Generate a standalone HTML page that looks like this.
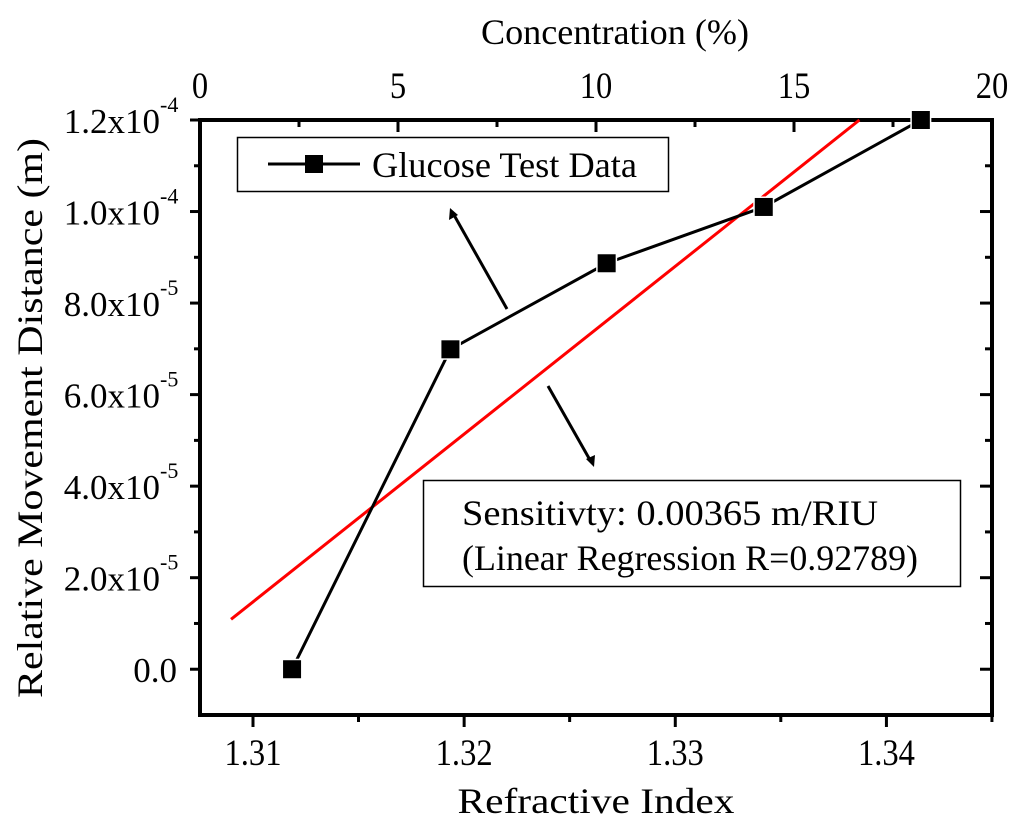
<!DOCTYPE html>
<html><head><meta charset="utf-8"><style>
html,body{margin:0;padding:0;background:#fff;}
svg{display:block;font-family:"Liberation Serif",serif;}
</style></head><body>
<svg id="chart" width="1024" height="832" viewBox="0 0 1024 832">
<g id="axes"></g>
<g id="marks"></g>
<g>
<rect x="237.5" y="137.5" width="431" height="54" fill="#fff" stroke="#000" stroke-width="1.5"/>
<line x1="268" y1="164" x2="360" y2="164" stroke="#000" stroke-width="3"/>
<rect x="305" y="155" width="18" height="18" fill="#000"/>
<text x="372" y="177" font-size="36" textLength="265" lengthAdjust="spacingAndGlyphs">Glucose Test Data</text>
</g>
<g>
<rect x="423.5" y="480.5" width="537" height="106" fill="#fff" stroke="#000" stroke-width="1.5"/>
<text x="462" y="525" font-size="36" textLength="416" lengthAdjust="spacingAndGlyphs">Sensitivty: 0.00365 m/RIU</text>
<text x="462" y="570" font-size="36" textLength="456" lengthAdjust="spacingAndGlyphs">(Linear Regression R=0.92789)</text>
</g>
<g>
<line x1="507" y1="309" x2="454" y2="215" stroke="#000" stroke-width="3"/>
<polygon points="450,208 449,220 458,215" fill="#000"/>
<line x1="548" y1="386" x2="590" y2="460" stroke="#000" stroke-width="3"/>
<polygon points="594,467 586,459 595,455" fill="#000"/>
</g>
<text x="596" y="813" font-size="36" text-anchor="middle" textLength="277" lengthAdjust="spacingAndGlyphs">Refractive Index</text>
<text x="615" y="44" font-size="36" text-anchor="middle" textLength="268" lengthAdjust="spacingAndGlyphs">Concentration (%)</text>
<text transform="translate(42,418) rotate(-90)" font-size="36" text-anchor="middle" textLength="560" lengthAdjust="spacingAndGlyphs">Relative Movement Distance (m)</text>
</svg>
<script>
const riValues=[1.31185,1.31935,1.32675,1.33419,1.34163];
const distValues=[0,6.99e-5,8.87e-5,1.01e-4,1.2e-4];
const fitX=[1.30896,1.33872];
const fitSlope=0.003666;
const fitIntercept=1.09e-5-0.003666*1.30896;
const xTicks=[1.31,1.32,1.33,1.34];
const yTicks=[0,2e-5,4e-5,6e-5,8e-5,1e-4,1.2e-4];
const yTickLabels=["0.0","2.0x10|-5","4.0x10|-5","6.0x10|-5","8.0x10|-5","1.0x10|-4","1.2x10|-4"];
const topTicks=[0,5,10,15,20];

const L=200,R=992,T=120,B=715;
const xMin=1.30749,xMax=1.3450,yMin=-1.0e-5,yMax=1.2e-4;
const sx=v=>L+(v-xMin)/(xMax-xMin)*(R-L);
const sy=v=>B-(v-yMin)/(yMax-yMin)*(B-T);
const st=v=>L+v/20*(R-L);
const NS="http://www.w3.org/2000/svg";
function mk(tag,attrs,parent){const e=document.createElementNS(NS,tag);for(const k in attrs)e.setAttribute(k,attrs[k]);parent.appendChild(e);return e;}
const axes=document.getElementById('axes'),marks=document.getElementById('marks');

let f=mk('rect',{x:L,y:T,width:R-L,height:B-T,fill:'none',stroke:'#000','stroke-width':4},axes);



xTicks.forEach((v,i)=>{
 const x=sx(v);
 let t=mk('line',{x1:x,y1:B,x2:x,y2:B+12,stroke:'#000','stroke-width':3},axes);
 
 
 let m=mk('line',{x1:x+105.5,y1:B,x2:x+105.5,y2:B+7,stroke:'#000','stroke-width':3},axes);
 
 
 let lb=mk('text',{x:0,y:0,'font-size':37,'text-anchor':'middle',transform:`translate(${x},765) scale(0.88,1)`},axes);
 lb.textContent=v.toFixed(2);
 
 
});
topTicks.forEach((v,i)=>{
 const x=st(v);
 let t=mk('line',{x1:x,y1:T,x2:x,y2:T+12,stroke:'#000','stroke-width':3},axes);
 
 
 if(i<topTicks.length-1){
 let m=mk('line',{x1:st(v+2.5),y1:T,x2:st(v+2.5),y2:T+7,stroke:'#000','stroke-width':3},axes);
 
 }
 let lb=mk('text',{x:0,y:0,'font-size':37,'text-anchor':'middle',transform:`translate(${x},98) scale(0.88,1)`},axes);
 lb.textContent=String(v);
 
 
});
yTicks.forEach((v,i)=>{
 const y=sy(v);
 let t=mk('line',{x1:L-10,y1:y,x2:L,y2:y,stroke:'#000','stroke-width':3},axes);
 
 
 let t2=mk('line',{x1:R-12,y1:y,x2:R,y2:y,stroke:'#000','stroke-width':3},axes);
 
 
 const ym=sy(v+1e-5);
 if(ym>T+2){
 let m=mk('line',{x1:L-6,y1:ym,x2:L,y2:ym,stroke:'#000','stroke-width':3},axes);
 
 
 let m2=mk('line',{x1:R-7,y1:ym,x2:R,y2:ym,stroke:'#000','stroke-width':3},axes);
 
 }
 const parts=yTickLabels[i].split('|');
 let lb=mk('text',{x:parts[1]?160:177,y:y+13,'font-size':35,'text-anchor':'end'},axes);
 lb.textContent=parts[0];
 
 
 if(parts[1]){let sp=mk('text',{x:160,y:y-8,'font-size':22},axes);sp.textContent=parts[1];
 
 }
});
let fl=mk('line',{x1:sx(fitX[0]),y1:sy(fitSlope*fitX[0]+fitIntercept),x2:sx(fitX[1]),y2:sy(fitSlope*fitX[1]+fitIntercept),stroke:'#f00','stroke-width':3},marks);


let d='';riValues.forEach((v,i)=>{d+=(i?'L':'M')+sx(v)+','+sy(distValues[i]);});
let pl=mk('path',{d:d,fill:'none',stroke:'#000','stroke-width':3},marks);


riValues.forEach((v,i)=>{
 let r=mk('rect',{x:sx(v)-9,y:sy(distValues[i])-9,width:18,height:18,fill:'#000',stroke:'#fff','stroke-width':3,'paint-order':'stroke'},marks);
 
 
});
</script>
</body></html>
